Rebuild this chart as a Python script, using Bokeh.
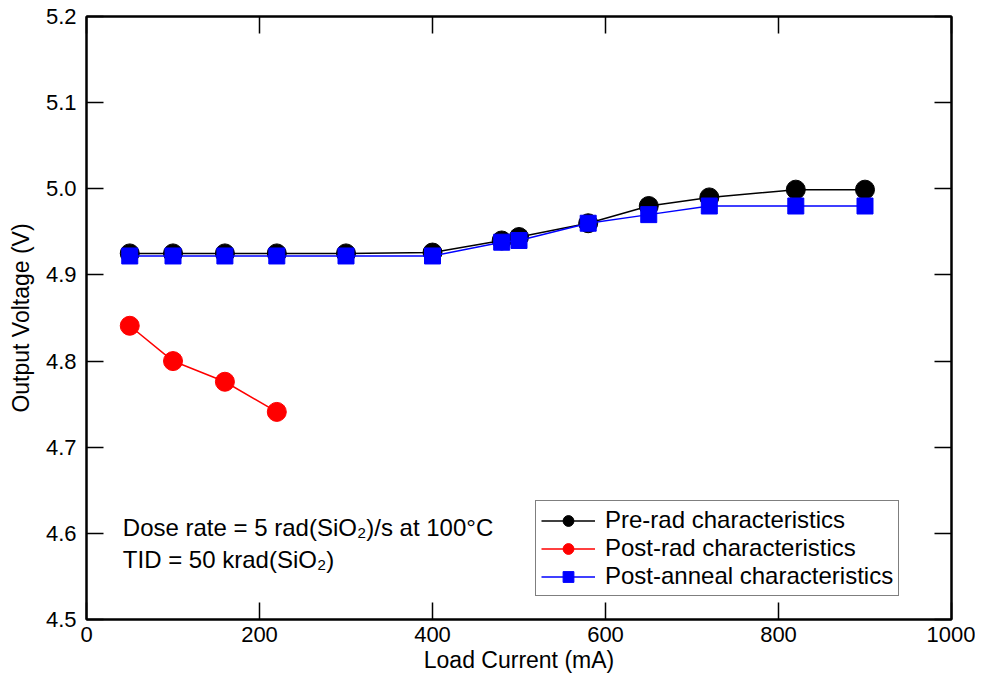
from bokeh.plotting import figure
from bokeh.models import (Range1d, LinearAxis, FixedTicker, PrintfTickFormatter,
                          CustomJSTickFormatter, Legend, LegendItem, Label)
from bokeh.embed import file_html
from bokeh.resources import INLINE

# ---- data ----
pre_x = [50, 100, 160, 220, 300, 400, 480, 500, 580, 650, 720, 820, 900]
pre_y = [4.925, 4.925, 4.925, 4.925, 4.925, 4.926, 4.940, 4.944, 4.960, 4.980, 4.990, 4.999, 4.999]

post_x = [50, 100, 160, 220]
post_y = [4.841, 4.800, 4.776, 4.741]

ann_x = [50, 100, 160, 220, 300, 400, 480, 500, 580, 650, 720, 820, 900]
ann_y = [4.922, 4.922, 4.922, 4.922, 4.922, 4.922, 4.938, 4.940, 4.960, 4.970, 4.980, 4.980, 4.980]

x_ticks = [0, 200, 400, 600, 800, 1000]
y_ticks = [4.5, 4.6, 4.7, 4.8, 4.9, 5.0, 5.1, 5.2]

FONT = "Liberation Sans"

p = figure(width=975, height=675, output_backend="svg", toolbar_location=None,
           x_range=Range1d(0, 1000), y_range=Range1d(4.5, 5.2),
           x_axis_label="Load Current (mA)", y_axis_label="Output Voltage (V)",
           min_border_left=86, min_border_right=24, min_border_top=16, min_border_bottom=55)
p.grid.visible = False
p.outline_line_color = "black"
p.outline_line_width = 2
p.background_fill_color = "white"
p.border_fill_color = "white"

def style_axis(ax, ticks, fmt, labels=True):
    ax.ticker = FixedTicker(ticks=ticks, num_minor_ticks=2)
    ax.axis_line_color = "black"
    ax.axis_line_width = 2
    ax.major_tick_in = 17
    ax.major_tick_out = 0
    ax.minor_tick_in = 9
    ax.minor_tick_out = 0
    ax.major_tick_line_color = "black"
    ax.minor_tick_line_color = "black"
    ax.major_tick_line_width = 1.5
    ax.minor_tick_line_width = 1.5
    ax.major_label_text_font = FONT
    ax.major_label_text_font_size = "22px"
    ax.major_label_text_color = "black"
    ax.axis_label_text_font = FONT
    ax.axis_label_text_font_size = "23px"
    ax.axis_label_text_font_style = "normal"
    ax.axis_label_text_color = "black"
    if labels:
        ax.formatter = PrintfTickFormatter(format=fmt)
    else:
        ax.formatter = CustomJSTickFormatter(code="return ''")
        ax.major_label_standoff = 0
        ax.axis_label = None

style_axis(p.xaxis[0], x_ticks, "%d")
p.xaxis[0].major_label_standoff = 7
p.xaxis[0].axis_label_standoff = 2
style_axis(p.yaxis[0], y_ticks, "%.1f")
p.yaxis[0].major_label_standoff = 10
p.yaxis[0].axis_label_standoff = 9

top = LinearAxis()
style_axis(top, x_ticks, "%d", labels=False)
p.add_layout(top, "above")
right = LinearAxis()
style_axis(right, y_ticks, "%.1f", labels=False)
p.add_layout(right, "right")

# ---- series ----
l1 = p.line(pre_x, pre_y, line_color="black", line_width=1.5)
s1 = p.scatter(pre_x, pre_y, marker="circle", size=19, fill_color="black", line_color="black")
l3 = p.line(ann_x, ann_y, line_color="blue", line_width=1.5)
s3 = p.scatter(ann_x, ann_y, marker="square", size=16, fill_color="blue", line_color="blue")
l2 = p.line(post_x, post_y, line_color="red", line_width=1.5)
s2 = p.scatter(post_x, post_y, marker="circle", size=19, fill_color="red", line_color="red")

legend = Legend(items=[
    LegendItem(label="Pre-rad characteristics", renderers=[l1, s1]),
    LegendItem(label="Post-rad characteristics", renderers=[l2, s2]),
    LegendItem(label="Post-anneal characteristics", renderers=[l3, s3]),
], location=(449, 23))
legend.label_text_font = FONT
legend.label_text_font_size = "24px"
legend.label_text_color = "black"
legend.label_height = 27
legend.glyph_height = 27
legend.glyph_width = 54
legend.spacing = 0
legend.padding = 5
legend.margin = 0
legend.label_standoff = 10
legend.border_line_color = "black"
legend.border_line_width = 1.5
legend.background_fill_alpha = 1
p.add_layout(legend)

p.add_layout(Label(x=42, y=4.607, text="Dose rate = 5 rad(SiO\u2082)/s at 100\u00b0C",
                   text_font=FONT, text_font_size="24px", text_baseline="middle",
                   text_color="black"))
p.add_layout(Label(x=42, y=4.570, text="TID = 50 krad(SiO\u2082)",
                   text_font=FONT, text_font_size="24px", text_baseline="middle",
                   text_color="black"))

open("out.html", "w").write(file_html(p, INLINE))
